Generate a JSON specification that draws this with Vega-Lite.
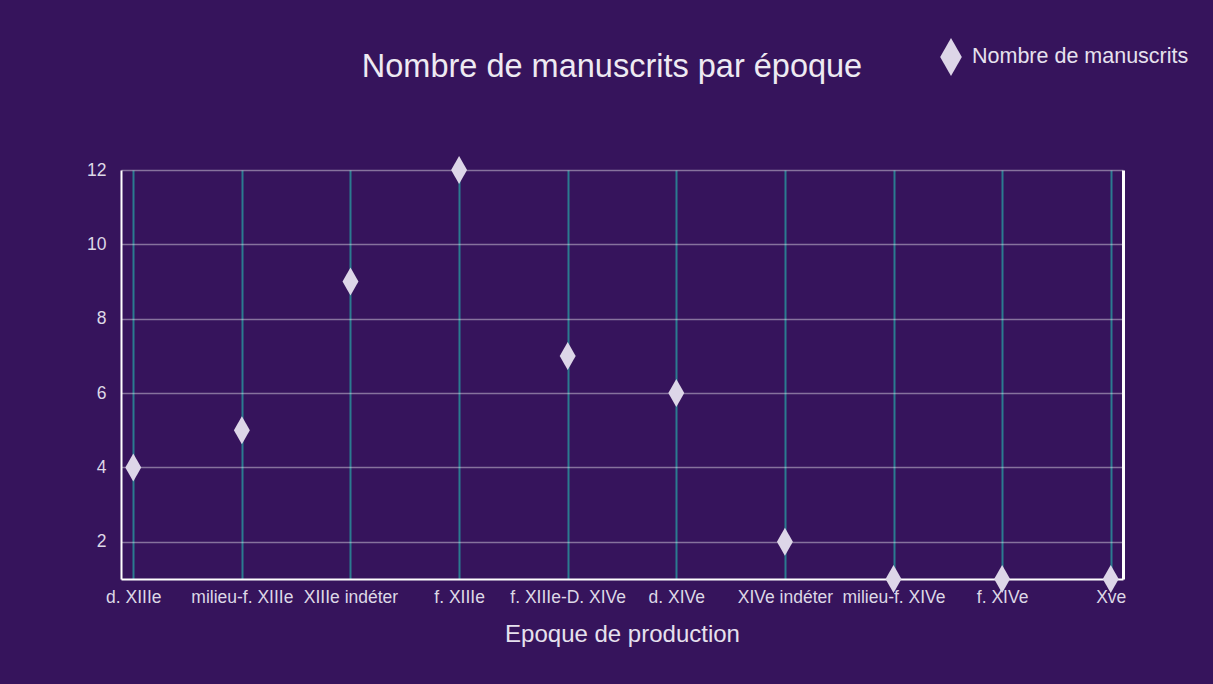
{
  "$schema": "https://vega.github.io/schema/vega-lite/v6.json",
  "autosize": "none",
  "width": 1002,
  "height": 409,
  "padding": {"left": 121, "top": 170, "right": 90, "bottom": 105},
  "background": "#36145c",
  "config": {
    "view": {"stroke": null},
    "font": "Liberation Sans"
  },
  "title": {
    "text": "Nombre de manuscrits par époque",
    "fontSize": 32.5,
    "fontWeight": "normal",
    "color": "#eeeaf2",
    "anchor": "middle",
    "dx": -10,
    "offset": 0,
    "dy": 46
  },
  "data": {
    "values": [
      {"epoque": "d. XIIIe", "n": 4, "serie": "Nombre de manuscrits"},
      {"epoque": "milieu-f. XIIIe", "n": 5, "serie": "Nombre de manuscrits"},
      {"epoque": "XIIIe indéter", "n": 9, "serie": "Nombre de manuscrits"},
      {"epoque": "f. XIIIe", "n": 12, "serie": "Nombre de manuscrits"},
      {"epoque": "f. XIIIe-D. XIVe", "n": 7, "serie": "Nombre de manuscrits"},
      {"epoque": "d. XIVe", "n": 6, "serie": "Nombre de manuscrits"},
      {"epoque": "XIVe indéter", "n": 2, "serie": "Nombre de manuscrits"},
      {"epoque": "milieu-f. XIVe", "n": 1, "serie": "Nombre de manuscrits"},
      {"epoque": "f. XIVe", "n": 1, "serie": "Nombre de manuscrits"},
      {"epoque": "Xve", "n": 1, "serie": "Nombre de manuscrits"}
    ]
  },
  "layer": [
    {
      "mark": {"type": "point", "filled": true, "opacity": 1, "size": 784, "shape": "M0,-1L0.57,0L0,1L-0.57,0Z"},
      "encoding": {
        "x": {
          "field": "epoque", "type": "nominal", "sort": null,
          "scale": {"type": "point", "padding": 0.113},
          "axis": {
            "title": "Epoque de production",
            "titleFontSize": 24, "titleFontWeight": "normal", "titleColor": "#e6e1ee", "titlePadding": 17,
            "labelAngle": 0, "labelFontSize": 17.5, "labelColor": "#ddd8e6", "labelPadding": 9,
            "labelOverlap": false,
            "ticks": false,
            "domainColor": "#ffffff", "domainWidth": 2,
            "grid": true, "gridColor": "#2b7b8f", "gridWidth": 2
          }
        },
        "y": {
          "field": "n", "type": "quantitative",
          "scale": {"domain": [1, 12], "nice": false, "zero": false},
          "axis": {
            "title": null,
            "values": [2, 4, 6, 8, 10, 12],
            "labelFontSize": 17.5, "labelColor": "#ddd8e6", "labelPadding": 15,
            "ticks": false,
            "domainColor": "#ffffff", "domainWidth": 2,
            "grid": true, "gridColor": "#ffffff", "gridOpacity": 0.4, "gridWidth": 1.5
          }
        },
        "color": {
          "field": "serie", "type": "nominal",
          "scale": {"range": ["#ddd6e8"]},
          "legend": {
            "title": null, "orient": "none", "legendX": 810, "legendY": -133,
            "symbolType": "M0,-1L0.57,0L0,1L-0.57,0Z", "symbolSize": 1444,
            "labelFontSize": 21.5, "labelColor": "#e6e1ee", "labelOffset": 1, "labelLimit": 400
          }
        }
      }
    },
    {
      "mark": {"type": "point", "opacity": 0},
      "encoding": {
        "x": {"field": "epoque", "type": "nominal", "sort": null},
        "y": {
          "field": "n", "type": "quantitative",
          "axis": {"orient": "right", "title": null, "labels": false, "ticks": false, "grid": false, "domainColor": "#ffffff", "domainWidth": 3}
        }
      }
    }
  ],
  "resolve": {"axis": {"y": "independent"}}
}
